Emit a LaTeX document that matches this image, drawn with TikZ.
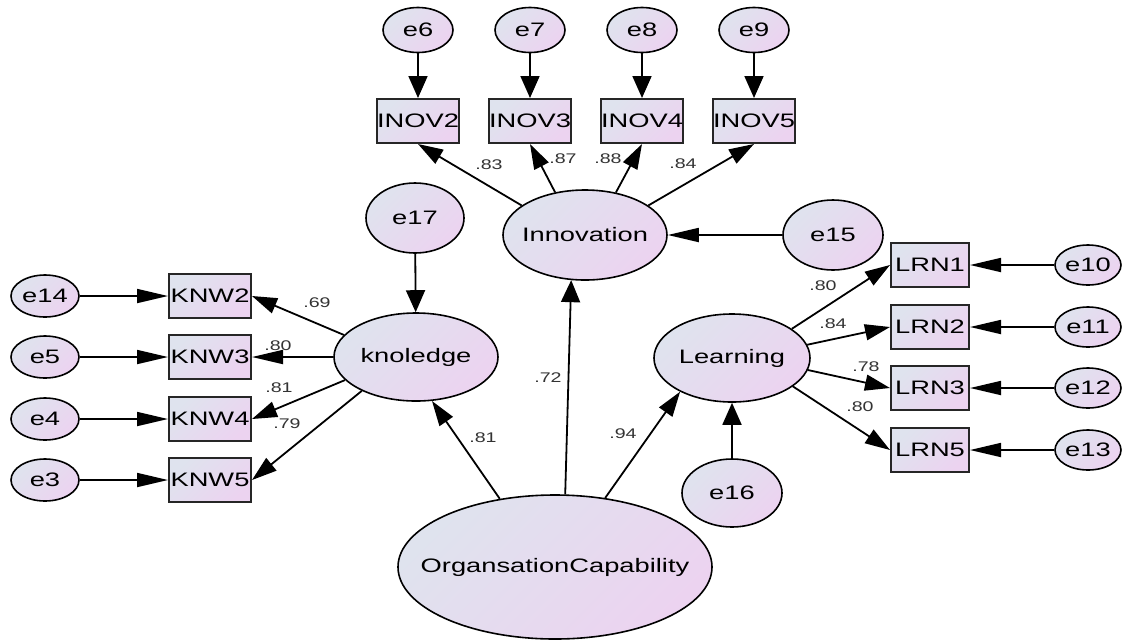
\documentclass[tikz,border=0pt]{standalone}
\usepackage{fontspec}
\setmainfont{Liberation Sans}[FakeStretch=1.4]
\usetikzlibrary{arrows.meta,shapes.geometric}
\definecolor{shadeA}{HTML}{DFE3EE}
\definecolor{shadeB}{HTML}{ECD3F0}
\newcommand{\mkfont}{\fontsize{19.5}{22}\selectfont}
\newcommand{\wfont}{\fontsize{14}{16}\selectfont}
\begin{document}
\begin{tikzpicture}[x=1pt,y=-1pt,
  fillshade/.style={top color=shadeA, bottom color=shadeB, shading angle=45},
  lat/.style={ellipse, draw=black, line width=1.6pt, fillshade, inner sep=0pt,
    label={[font=\mkfont]center:#1}},
  err/.style={ellipse, draw=black, line width=1.6pt, fillshade, inner sep=0pt, font=\mkfont},
  obs/.style={rectangle, draw=black!85, line width=2pt, fillshade, inner sep=0pt,
    minimum width=82pt, minimum height=44pt, font=\mkfont},
  varr/.style={-{Triangle[length=22pt,width=19pt]}, line width=1.8pt},
  harr/.style={-{Triangle[length=31pt,width=14pt]}, line width=1.8pt},
  darr/.style={-{Triangle[length=25pt,width=16pt]}, line width=1.8pt},
  wt/.style={font=\wfont, text=black!80, inner sep=0pt},
]
\useasboundingbox (0,0) rectangle (1146,641);
\fill[white] (0,0) rectangle (1146,641);

% Innovation block
\foreach \n/\x in {6/418,7/530,8/642,9/754}
  \node[err, minimum width=70pt, minimum height=45pt] (e\n) at (\x,30) {e\n};
\foreach \n/\x in {2/418,3/530,4/642,5/754}
  \node[obs] (inov\n) at (\x,121) {INOV\n};
\node[lat=Innovation, minimum width=164pt, minimum height=90pt] (innov) at (585,235) {};
\node[err, minimum width=100pt, minimum height=70pt] (e15) at (833,235) {e15};

% knoledge block
\node[err, minimum width=98pt, minimum height=70pt] (e17) at (415,218) {e17};
\node[lat=knoledge, minimum width=164pt, minimum height=88pt] (kn) at (416,357) {};
\foreach \n/\e/\y in {2/14/296,3/5/357,4/4/419,5/3/480}{
  \node[obs] (knw\n) at (210,\y) {KNW\n};
  \node[err, minimum width=68pt, minimum height=42pt] (e\e) at (45,\y) {e\e};
}

% Learning block
\node[lat=Learning, minimum width=156pt, minimum height=88pt] (lrn) at (732,358) {};
\foreach \n/\e/\y in {1/10/265,2/11/327,3/12/388,5/13/450}{
  \node[obs, minimum width=78pt] (lrn\n) at (930,\y) {LRN\n};
  \node[err, minimum width=66pt, minimum height=40pt] (e\e) at (1088,\y) {e\e};
}
\node[err, minimum width=100pt, minimum height=68pt] (e16) at (732,493) {e16};

% Higher-order factor
\node[lat=OrgansationCapability, minimum width=314pt, minimum height=144pt] (oc) at (555,567) {};

% Error terms
\foreach \n/\e in {2/6,3/7,4/8,5/9} \draw[varr] (e\e) -- (inov\n.north);
\draw[harr] (e15) -- (innov);
\draw[varr] (e17) -- (kn);
\foreach \n/\e in {2/14,3/5,4/4,5/3} \draw[harr] (e\e) -- (knw\n.west);
\foreach \n/\e in {1/10,2/11,3/12,5/13} \draw[harr] (e\e) -- (lrn\n.east);
\draw[varr] (e16) -- (lrn);

% Loadings
\draw[darr] (innov.155) -- (inov2.south);
\draw[darr] (innov.125) -- (inov3.south);
\draw[darr] (innov.54) -- (inov4.south);
\draw[darr] (innov.25) -- (inov5.south);
\draw[darr] (kn.163) -- (knw2.east);
\draw[harr] (kn.180) -- (knw3.east);
\draw[darr] (kn.198) -- (knw4.east);
\draw[darr] (kn.212) -- (knw5.east);
\draw[darr] (lrn.26) -- (lrn1.west);
\draw[darr] (lrn.10) -- (lrn2.west);
\draw[darr] (lrn.-9) -- (lrn3.west);
\draw[darr] (lrn.-25) -- (lrn5.west);

% Structural paths
\draw[darr] (oc.129) -- (kn.-70);
\draw[varr] (oc.82) -- (innov.253);
\draw[darr] (oc.54) -- (lrn.213);

% Standardised estimates
\node[wt] (w1) at (489,165) {.83};
\node[wt] (w2) at (563,159) {.87};
\node[wt] (w3) at (608,159) {.88};
\node[wt] (w4) at (683,164) {.84};
\node[wt] (w5) at (317,303) {.69};
\node[wt] (w6) at (278,346) {.80};
\node[wt] (w7) at (279,388) {.81};
\node[wt] (w8) at (287,424) {.79};
\node[wt] (w9) at (483,438) {.81};
\node[wt] (w10) at (548,378) {.72};
\node[wt] (w11) at (623,434) {.94};
\node[wt] (w12) at (823,286) {.80};
\node[wt] (w13) at (833,324) {.84};
\node[wt] (w14) at (866,367) {.78};
\node[wt] (w15) at (860,407) {.80};
\end{tikzpicture}
\end{document}
